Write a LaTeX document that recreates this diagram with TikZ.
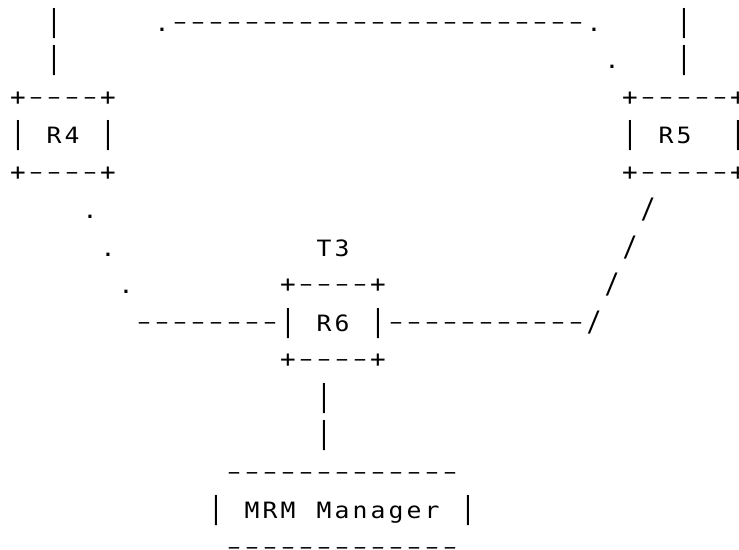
\documentclass[tikz,border=0pt]{standalone}
\usepackage{fontspec}
\usepackage{graphicx}
\setmonofont[FakeStretch=1.1]{DejaVu Sans Mono}
\newlength\cw
\setlength\cw{18pt}
\newcommand\artfont{\ttfamily\fontsize{22.5}{22.5}\selectfont}
\newcommand\cellc[1]{\makebox[\cw][c]{#1}}
\newcommand\vbar{\scalebox{1}[1.34]{|}}
\newcommand\hdash{\raisebox{2pt}{\scalebox{0.7}[1]{\textendash}}}
\newcommand\plusc{\raisebox{1.2pt}{\scalebox{1.05}{+}}}
\newcommand\slashc{\scalebox{1}[1.25]{/}}
\def\spread#1{\spreadi#1\relax}
\def\spreadi#1{\ifx#1\relax\else\spreadc{#1}\expandafter\spreadi\fi}
\def\spreadc#1{\ifx#1-\cellc{\hdash}\else\ifx#1|\cellc{\vbar}\else\ifx#1+\cellc{\plusc}\else\ifx#1/\cellc{\slashc}\else\cellc{#1}\fi\fi\fi\fi}
\tikzset{art/.style={anchor=base west, inner sep=0pt, outer sep=0pt, font=\artfont}}
\newcommand\seg[4]{\node[art] (#1) at ({9+18*#3},{-6.3+37.5*#2}) {\spread{#4}};}
\begin{document}
\begin{tikzpicture}[x=1pt,y=-1pt]
\useasboundingbox (0,0) rectangle (739,549);
% row 1
\seg{aL1}{1}{2}{|}
\seg{top}{1}{8}{.-----------------------.}
\seg{aR1}{1}{37}{|}
% row 2
\seg{aL2}{2}{2}{|}
\seg{dR2}{2}{33}{.}
\seg{aR2}{2}{37}{|}
% row 3
\seg{r4t}{3}{0}{+----+}
\seg{r5t}{3}{34}{+-----+}
% row 4
\seg{r4l}{4}{0}{|}
\seg{r4}{4}{2}{R4}
\seg{r4r}{4}{5}{|}
\seg{r5l}{4}{34}{|}
\seg{r5}{4}{36}{R5}
\seg{r5r}{4}{40}{|}
% row 5
\seg{r4b}{5}{0}{+----+}
\seg{r5b}{5}{34}{+-----+}
% row 6
\seg{d6}{6}{4}{.}
\seg{s6}{6}{35}{/}
% row 7
\seg{d7}{7}{5}{.}
\seg{t3}{7}{17}{T3}
\seg{s7}{7}{34}{/}
% row 8
\seg{d8}{8}{6}{.}
\seg{r6t}{8}{15}{+----+}
\seg{s8}{8}{33}{/}
% row 9
\seg{h9l}{9}{7}{--------}
\seg{r6l}{9}{15}{|}
\seg{r6}{9}{17}{R6}
\seg{r6r}{9}{20}{|}
\seg{h9r}{9}{21}{-----------/}
% row 10
\seg{r6b}{10}{15}{+----+}
% rows 11-12
\seg{v11}{11}{17}{|}
\seg{v12}{12}{17}{|}
% row 13
\seg{mt}{13}{12}{-------------}
% row 14
\seg{ml}{14}{11}{|}
\seg{m1}{14}{13}{MRM}
\seg{m2}{14}{17}{Manager}
\seg{mr}{14}{25}{|}
% row 15
\seg{mb}{15}{12}{-------------}
\end{tikzpicture}
\end{document}
